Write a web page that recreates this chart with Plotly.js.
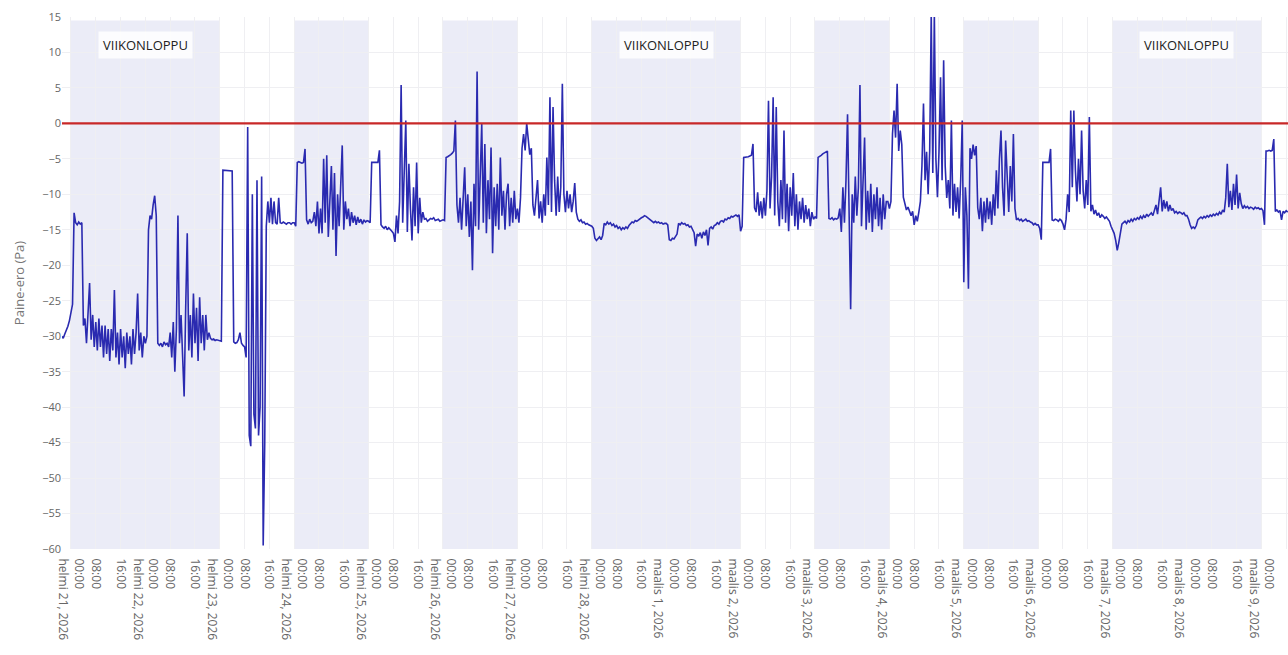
<!DOCTYPE html>
<html>
<head>
<meta charset="utf-8">
<script src="https://cdn.plot.ly/plotly-3.0.1.min.js"></script>
<style>html,body{margin:0;padding:0;background:#fff;}#chart{width:1288px;height:655px;}</style>
</head>
<body>
<div id="chart"></div>
<script>
// ---- Data: pressure difference (Pa), sampled every 30 minutes ----
const feb20 = [-30.0, -30.3, -29.7, -29.2, -28.6, -27.8];
const feb21 = [-26.5, -25.5, -12.6, -14.0, -14.3, -13.9, -14.2, -14.0,
  -28.5, -27.5, -31, -27, -22.5, -30.5, -27, -31.5,
  -28, -32, -27.5, -31.5, -28.5, -33, -28.5, -32.5,
  -29, -33.5, -29, -32, -23.5, -33, -29.5, -34,
  -29, -33, -30, -34.5, -29.5, -32.5, -30, -34,
  -29, -32.5, -29.5, -24, -32, -29.5, -33, -30];
const feb22 = [-31, -30, -15, -13, -13.5, -11.5, -10.2, -13,
  -31, -31.3, -31, -31.5, -30.8, -31.2, -31, -31.5,
  -29.5, -33, -28, -35, -29, -13, -31, -27,
  -33.5, -38.5, -26, -15.5, -32, -27, -33, -24,
  -31, -26, -33.5, -24.5, -31, -27, -32, -27,
  -30.5, -29.5, -30.3, -30.5, -30.4, -30.6, -30.5, -30.6];
const feb23 = [-30.6, -30.7, -6.6, -6.6, -6.6, -6.6, -6.6, -6.6,
  -6.7, -30.8, -31, -30.9, -30.5, -29.5, -31, -31.3,
  -31.5, -33, -0.5, -44, -45.5, -10, -41, -43,
  -8, -44, -40, -7.5, -59.5, -45, -14.5, -11,
  -14, -10.5, -14.2, -11, -14, -14.2, -10.5, -14,
  -14.1, -13.9, -14, -14.2, -14, -14, -14.2, -14.0];
const feb24 = [-14, -14.5, -5.5, -5.4, -5.5, -5.6, -5.5, -3.6,
  -13.6, -14.2, -13.5, -14, -13.8, -12.5, -14.5, -11,
  -15.5, -12, -15.5, -5, -14, -4.5, -16, -10.5,
  -6, -15, -7, -18.7, -10, -14.5, -9.5, -3.1,
  -15, -11, -13.5, -12, -14.5, -12.5, -14, -13,
  -14.3, -13.2, -14, -13.5, -14.2, -13.6, -13.9, -13.7];
const feb25 = [-13.8, -14, -5.5, -5.5, -5.6, -5.5, -5.5, -3.8,
  -14.3, -14.6, -14.8, -14.5, -15, -14.7, -14.9, -15.2,
  -15.5, -16.7, -13, -15.5, -11, 5.4, -14, -8,
  0.4, -15.3, -5.7, -12, -16.5, -9, -14.5, -5.5,
  -15.5, -10.5, -14, -12.5, -13.5, -13.4, -13.8, -13.6,
  -13.4, -13.5, -13.3, -13.7, -13.6, -13.5, -13.8, -13.7];
const feb26 = [-13.6, -13.7, -4.8, -4.7, -4.6, -4.4, -4.2, -3.9,
  0.4, -11.5, -14, -10.5, -15, -9.5, -6.2, -14.5,
  -10, -16, -11, -20.7, -8.5, -14.5, 7.3, -15,
  -7.5, -0.1, -14, -2.9, -15.5, -8, -13.5, -3.4,
  -18.3, -9, -14.5, -8.5, -15, -4.8, -13, -9.5,
  -15, -10, -8.5, -14.5, -10.5, -14, -9.5, -13.5];
const feb27 = [-12, -14, -10.5, -3.5, -1.5, -3.8, 0, -2,
  -4.4, -3.5, -11.5, -13, -10.5, -8, -13.4, -11,
  -14, -10, -13, -4.8, -11.5, 3.7, -12.5, 2.3,
  -8, -13, -7.5, -12.5, -9, 5.6, -10, -12.5,
  -9.5, -12, -10, -12.5, -11, -8.4, -12.5, -13.5,
  -13.8, -13.6, -14, -13.9, -14.2, -14.1, -14.3, -14.4];
const feb28 = [-14.5, -14.8, -16.2, -16.5, -16.3, -16.0, -16.4, -15.8,
  -14.1, -14.3, -13.9, -14.2, -14.0, -14.4, -14.2, -14.6,
  -14.4, -14.8, -14.6, -15.0, -14.7, -14.9, -14.6, -14.8,
  -14.4, -14.2, -13.9, -14.0, -13.7, -13.8, -13.6, -13.5,
  -13.3, -13.2, -13.0, -13.1, -13.3, -13.5, -13.6, -13.9,
  -14.0, -13.8, -14.0, -13.9, -14.1, -14.0, -14.2, -14.1];
const mar01 = [-14.1, -14.3, -16.4, -16.5, -16.2, -16.3, -15.9, -15.6,
  -14.1, -14.3, -14.0, -14.2, -14.1, -14.4, -14.3, -14.6,
  -14.5, -15.0, -15.4, -17.3, -15.6, -15.9, -15.4, -16.2,
  -15.3, -15.8, -15.0, -17.2, -14.8, -14.6, -14.9, -14.4,
  -14.3, -14.0, -14.2, -13.8, -13.7, -13.9, -13.5, -13.6,
  -13.3, -13.4, -13.1, -13.2, -13.0, -12.9, -13.1, -12.9];
const mar02 = [-15.2, -14.5, -4.8, -4.8, -4.7, -4.7, -4.6, -4.5,
  -2.9, -11.9, -12.5, -9.7, -13, -11, -13.4, -10.5,
  -13, -9.5, 3.2, -12, -7.5, 3.7, -13, 2.3,
  -11, -14.5, -8, -13.5, -1.0, -14, -8.5, -15.2,
  -9, -13, -7, -14.5, -10, -15, -11, -13.5,
  -10.5, -14, -11.5, -13.5, -12, -14.5, -12.5, -13.5];
const mar03 = [-13.2, -13.4, -4.8, -4.7, -4.5, -4.3, -4.2, -4.0,
  -3.9, -13.4, -13.5, -13.3, -13.6, -13.4, -13.5, -13.3,
  -12, -15.3, -9, -14, -8, 1.3, -14.5, -26.2,
  -10, -14, -7.5, -13, -9, 5.4, -14.5, -8,
  -2, -15, -9.5, -14, -8.5, -15.3, -10, -13.5,
  -9, -14.5, -10.5, -15, -10, -13.5, -11, -11];
const mar04 = [-12, -11, -1.5, 1.8, -2, 5.6, -3.9, -1,
  -3, -10.4, -11.5, -12.2, -11.8, -12.5, -13, -12.4,
  -14.3, -13, -13.8, -12.5, -11, -6, 2.8, -8,
  -4, -10, -3.9, 15.5, -7, 15.5, -5, -10.4,
  -4, 6.5, -8, 8.9, -6, -10.5, -8, -12,
  0.4, -13, -8.5, -12.5, -9, -13.4, -8, 0.4];
const mar05 = [-22.4, -9, -13, -23.3, -3.5, -5, -3, -4.5,
  -3.2, -11.9, -13.5, -10.5, -15.2, -11, -14, -10.5,
  -13.5, -11, -14.3, -10, -13, -6.6, -12, -5,
  -1, -9, -13, -2.4, -8, -12.5, -6, -11,
  -1.5, -12, -13.6, -13.4, -13.7, -13.5, -13.8, -13.6,
  -13.5, -13.8, -13.7, -13.9, -14.0, -14.3, -14.1, -14.3];
const mar06 = [-14.3, -14.8, -16.4, -5.5, -5.5, -5.4, -5.5, -5.5,
  -3.6, -13.6, -13.7, -13.5, -13.6, -13.8, -13.5, -13.7,
  -14.2, -15.0, -13.5, -10, -12.5, 1.8, -9, 1.8,
  -6.6, -11, -5, -10, -1, -9.5, -12, -8,
  -11.5, 0.9, -12.4, -11.5, -12.8, -12.2, -13, -12.6,
  -13.3, -12.9, -13.1, -13.4, -13.2, -13.5, -13.8, -14.5];
const mar07 = [-15, -15.5, -16.5, -17.9, -16.8, -15.5, -14.2, -14.0,
  -13.8, -14.1, -13.7, -13.9, -13.5, -13.8, -13.4, -13.6,
  -13.3, -13.5, -13.1, -13.4, -13.0, -13.3, -12.8, -13.1,
  -12.9, -12.6, -13.0, -12.2, -11.5, -12.8, -10.5, -9.0,
  -12.4, -10.8, -12.0, -11.0, -12.4, -11.5, -12.3, -12.0,
  -12.6, -12.4, -12.7, -12.5, -12.6, -12.8, -12.6, -13.0];
const mar08 = [-13.0, -13.5, -14.3, -14.8, -14.6, -14.8, -14.4, -13.6,
  -13.4, -13.2, -13.4, -13.1, -13.3, -13.0, -13.2, -12.9,
  -13.1, -12.8, -13.0, -12.7, -12.9, -12.5, -12.8, -12.2,
  -12.5, -10.5, -5.7, -11.8, -9.5, -12.2, -8.5, -11.5,
  -7.2, -12, -9.8, -11.3, -12.0, -11.6, -11.9, -11.7,
  -12.0, -11.8, -11.9, -12.1, -11.8, -12.0, -11.9, -12.1];
const mar09 = [-12.0, -12.3, -14.3, -3.9, -3.9, -3.8, -3.9, -3.8,
  -2.2, -12.4, -12.2, -12.5, -12.3, -13.6, -12.4, -12.6, -12.3, -12.5];

// first timestamp of each block above (30-minute sampling)
const blockStarts = ['2026-02-20 21:00', '2026-02-21 00:00', '2026-02-22 00:00', '2026-02-23 00:00',
  '2026-02-24 00:00', '2026-02-25 00:00', '2026-02-26 00:00', '2026-02-27 00:00', '2026-02-28 00:00',
  '2026-03-01 00:00', '2026-03-02 00:00', '2026-03-03 00:00', '2026-03-04 00:00', '2026-03-05 00:00',
  '2026-03-06 00:00', '2026-03-07 00:00', '2026-03-08 00:00', '2026-03-09 00:00'];
const blocks = [feb20, feb21, feb22, feb23, feb24, feb25, feb26, feb27, feb28,
  mar01, mar02, mar03, mar04, mar05, mar06, mar07, mar08, mar09];

// shaded bands
const bandStart = ['2026-02-21', '2026-02-24', '2026-02-26', '2026-02-28', '2026-03-03', '2026-03-05', '2026-03-07'];
const bandEnd   = ['2026-02-23', '2026-02-25', '2026-02-27', '2026-03-02', '2026-03-04', '2026-03-06', '2026-03-09'];
const weekendCenters = ['2026-02-22', '2026-03-01', '2026-03-08'];
const weekendLabel = 'VIIKONLOPPU';

// tick labels
const dayLabels = ['helmi 21, 2026', 'helmi 22, 2026', 'helmi 23, 2026', 'helmi 24, 2026', 'helmi 25, 2026',
  'helmi 26, 2026', 'helmi 27, 2026', 'helmi 28, 2026', 'maalis 1, 2026', 'maalis 2, 2026', 'maalis 3, 2026',
  'maalis 4, 2026', 'maalis 5, 2026', 'maalis 6, 2026', 'maalis 7, 2026', 'maalis 8, 2026', 'maalis 9, 2026'];
const hourLabels = ['00:00', '08:00', '16:00'];
const yTitle = 'Paine-ero (Pa)';
const refLevel = 0;

// ---- build ----
function parseT(s) {
  const [d, t] = s.split(' ');
  const [Y, M, D] = d.split('-').map(Number);
  const [h, m] = (t || '00:00').split(':').map(Number);
  return Date.UTC(Y, M - 1, D, h, m);
}
function fmt(ms) {
  const d = new Date(ms);
  const p = n => String(n).padStart(2, '0');
  return d.getUTCFullYear() + '-' + p(d.getUTCMonth() + 1) + '-' + p(d.getUTCDate()) + ' ' + p(d.getUTCHours()) + ':' + p(d.getUTCMinutes());
}
const xs = [], ys = [];
blocks.forEach((vals, bi) => {
  const t0 = parseT(blockStarts[bi]);
  vals.forEach((v, i) => { xs.push(fmt(t0 + i * 1800000)); ys.push(v); });
});

const tickvals = [], ticktext = [];
const day0 = parseT('2026-02-21 00:00');
dayLabels.forEach((lab, di) => {
  hourLabels.forEach((hl, hi) => {
    tickvals.push(fmt(day0 + di * 86400000 + hi * 8 * 3600000));
    ticktext.push(hi === 0 ? hl + '<br>' + lab : hl);
  });
});

const shapes = bandStart.map((s, i) => ({
  type: 'rect', xref: 'x', yref: 'y', x0: s, x1: bandEnd[i], y0: -60, y1: 14.5,
  fillcolor: '#ebecf7', line: { width: 0 }, layer: 'below'
}));
shapes.push({ type: 'line', xref: 'paper', yref: 'y', x0: 0, x1: 1, y0: refLevel, y1: refLevel,
  line: { color: 'rgb(200,40,40)', width: 2.2 }, layer: 'above' });

const annotations = weekendCenters.map(c => ({
  x: c, xref: 'x', y: 0.948, yref: 'paper', yanchor: 'middle', xanchor: 'center',
  text: weekendLabel, showarrow: false,
  font: { size: 13, color: '#222' }, bgcolor: 'rgba(255,255,255,0.85)', borderpad: 4
}));

const trace = {
  x: xs, y: ys, type: 'scatter', mode: 'lines',
  line: { color: '#2a2ab0', width: 1.6 }, hoverinfo: 'skip'
};

const layout = {
  width: 1288, height: 655,
  margin: { l: 62, r: 0, t: 17, b: 106 },
  paper_bgcolor: '#ffffff', plot_bgcolor: '#ffffff',
  showlegend: false,
  font: { family: 'Open Sans, Arial, sans-serif', color: '#666' },
  xaxis: {
    type: 'date', range: ['2026-02-20 21:06', '2026-03-09 08:35'],
    tickmode: 'array', tickvals: tickvals, ticktext: ticktext, tickangle: 90,
    tickfont: { size: 12, color: '#666' },
    ticks: 'outside', ticklen: 6, tickcolor: 'rgba(0,0,0,0)',
    showgrid: true, gridcolor: '#efeff2', zeroline: false, showline: false, automargin: false
  },
  yaxis: {
    range: [-60, 15], dtick: 5, tick0: 0,
    tickfont: { size: 11, color: '#666' },
    title: { text: yTitle, font: { size: 13, color: '#777' }, standoff: 14 },
    showgrid: true, gridcolor: '#efeff2', zeroline: false, showline: false, automargin: false
  },
  shapes: shapes,
  annotations: annotations
};

Plotly.newPlot('chart', [trace], layout, { displayModeBar: false, staticPlot: true });
</script>
</body>
</html>
